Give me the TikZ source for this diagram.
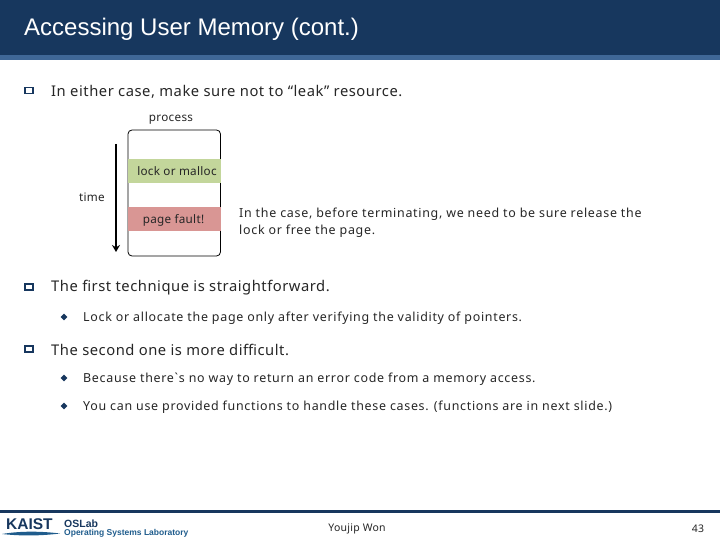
\documentclass[tikz,border=0pt]{standalone}
\usepackage{fontspec}
\usepackage{xcolor}
\setmainfont{Liberation Sans}
\newfontfamily\bodyfont[LetterSpace=3.6]{Noto Sans}
\newfontfamily\subfont[LetterSpace=5.6]{Noto Sans}
\newfontfamily\smallfont[LetterSpace=2.5]{Noto Sans}
\usetikzlibrary{arrows.meta, positioning, shapes.geometric}
\definecolor{navy}{HTML}{17375E}
\definecolor{band}{HTML}{3F6797}
\definecolor{lockgreen}{HTML}{C3D69B}
\definecolor{faultred}{HTML}{D99694}
\definecolor{logoblue}{HTML}{1F5C8C}

\begin{document}
\begin{tikzpicture}[
    x=1pt, y=-1pt,
    txt/.style={font=\bodyfont\fontsize{14.75}{17}\selectfont, anchor=west, inner sep=0pt, text=black!85},
    subtxt/.style={font=\subfont\fontsize{12.45}{15}\selectfont, anchor=west, inner sep=0pt, text=black!85},
    small/.style={font=\smallfont\fontsize{11.7}{14}\selectfont, inner sep=0pt, text=black!85},
    square/.style={draw=navy, line width=1.6pt, minimum width=7.5pt, minimum height=6pt, inner sep=0pt},
    dot/.style={diamond, fill=navy, minimum size=7pt, inner sep=0pt},
    bar/.style={minimum width=92.5pt, minimum height=24pt, inner sep=0pt}
]
\useasboundingbox (0,0) rectangle (720,540);

% header
\fill[navy] (0,0) rectangle (720,55);
\fill[band] (0,55) rectangle (720,60);
\node[anchor=west, inner sep=0pt, text=white, font=\fontsize{24}{28}\selectfont] (title) at (24,29.5) {Accessing User Memory (cont.)};

% bullets
\node[square] (b1) at (29,90.5) {};
\node[txt] (t1) at (51,91.5) {In either case, make sure not to “leak” resource.};
\node[square] (b2) at (29,287) {};
\node[txt] (t2) at (51,287.5) {The first technique is straightforward.};
\node[dot] (d1) at (64,317) {};
\node[subtxt] (s1) at (83,318) {Lock or allocate the page only after verifying the validity of pointers.};
\node[square] (b3) at (29,349) {};
\node[txt] (t3) at (51,349.5) {The second one is more difficult.};
\node[dot] (d2) at (64,378) {};
\node[subtxt] (s2) at (83,379) {Because there`s no way to return an error code from a memory access.};
\node[dot] (d3) at (64,406) {};
\node[subtxt] (s3) at (83,407) {You can use provided functions to handle these cases. (functions are in next slide.)};

% process box
\node[small] (process) at (171,119.5) {process};
\node[draw, line width=0.8pt, rounded corners=4pt, minimum width=92.5pt, minimum height=126pt, inner sep=0pt] (proc) at (174.25,193) {};
\node[bar, fill=lockgreen] (lock) at (174.25,171) {};
\node[small] (locktxt) at (177,171.5) {lock or malloc};
\node[bar, fill=faultred] (fault) at (174.25,219) {};
\node[small] (faulttxt) at (173.5,220) {page fault!};
\coordinate (start) at (116,144);
\coordinate (stop) at (116,252);
\draw[-{Stealth[length=7pt,width=8pt]}, line width=2pt] (start) -- (stop);
\node[small] (time) at (92,197) {time};
\node[subtxt, align=left, font=\subfont\fontsize{12.45}{17}\selectfont] (note) at (239,222.5) {In the case, before terminating, we need to be sure release the\\lock or free the page.};

% footer
\fill[navy] (0,510) rectangle (720,513);
\node[small, font=\smallfont\fontsize{10.5}{12}\selectfont] (author) at (357,529) {Youjip Won};
\node[small, font=\smallfont\fontsize{10.5}{12}\selectfont] (page) at (698,529) {43};
\node[anchor=west, inner sep=0pt, text=navy, font=\bfseries\fontsize{15.5}{15}\selectfont] (kaist) at (6,524) {KAIST};
\fill[logoblue] (2,534) .. controls (20,531) and (40,531) .. (60,533.5) .. controls (40,536) and (20,536) .. (2,534);
\node[anchor=west, inner sep=0pt, text=navy, font=\bfseries\fontsize{10.5}{10}\selectfont] (oslab) at (64,523.5) {OSLab};
\node[anchor=west, inner sep=0pt, text=logoblue, font=\bfseries\fontsize{8.5}{9}\selectfont] (lab) at (64,533) {Operating Systems Laboratory};
\end{tikzpicture}
\end{document}
